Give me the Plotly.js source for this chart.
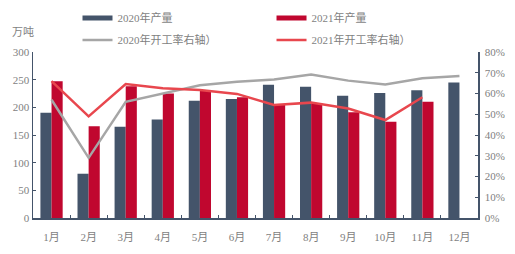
<!DOCTYPE html>
<html><head><meta charset="utf-8">
<script src="https://cdn.plot.ly/plotly-3.0.1.min.js"></script>
<style>html,body{margin:0;padding:0;background:#fff}#c{width:515px;height:254px}</style>
</head><body><div id="c"></div>
<script>
const months = ['1月','2月','3月','4月','5月','6月','7月','8月','9月','10月','11月','12月'];
const prod2020 = [190, 80, 165, 178, 212, 215, 241, 237, 221, 226, 231, 245];
const prod2021 = [247, 166, 238, 225, 231, 218, 205, 208, 191, 174, 210, null];
const rate2020 = [0.57, 0.29, 0.56, 0.60, 0.64, 0.657, 0.668, 0.692, 0.662, 0.644, 0.673, 0.684];
const rate2021 = [0.66, 0.49, 0.646, 0.625, 0.617, 0.598, 0.545, 0.556, 0.528, 0.472, 0.582, null];
const names = ['2020年产量','2021年产量','2020年开工率右轴）','2021年开工率右轴）'];

const C20 = '#44546A', C21 = '#C0072F', G = '#A6A6A6', R = '#E8474E';
const F = 'Liberation Serif, Noto Sans CJK SC, serif';
const traces = [
  {type:'bar', x:months, y:prod2020, marker:{color:C20}, showlegend:false, name:names[0]},
  {type:'bar', x:months, y:prod2021, marker:{color:C21}, showlegend:false, name:names[1]},
  {type:'scatter', mode:'lines', x:months, y:rate2020, yaxis:'y2', line:{color:G, width:2.5}, name:names[2], legend:'legend3'},
  {type:'scatter', mode:'lines', x:months, y:rate2021, yaxis:'y2', line:{color:R, width:2.5}, name:names[3], legend:'legend4'},
  {type:'scatter', mode:'lines', x:[null], y:[null], line:{color:C20, width:5}, name:names[0], legend:'legend'},
  {type:'scatter', mode:'lines', x:[null], y:[null], line:{color:C21, width:5}, name:names[1], legend:'legend2'}
];
const legBase = {orientation:'h', xanchor:'left', yanchor:'middle',
  font:{family:F, size:11, color:'#7F7F7F'}, bgcolor:'rgba(0,0,0,0)', itemwidth:30};
const L = (x, y) => Object.assign({}, legBase, {x:x, y:y});
const layout = {
  width:515, height:254, margin:{l:33, r:37, t:52, b:36, autoexpand:false},
  paper_bgcolor:'#fff', plot_bgcolor:'#fff',
  barmode:'group', bargap:0.4, bargroupgap:0,
  font:{family:F, size:11, color:'#7F7F7F'},
  xaxis:{showgrid:false, showline:true, linecolor:C20, linewidth:1.5, ticks:'inside', ticklen:3, tickcolor:C20,
    tickson:'boundaries', ticklabelstandoff:8, tickfont:{family:F, size:11, color:'#7F7F7F'}, fixedrange:true},
  yaxis:{range:[0,300], dtick:50, showgrid:false, zeroline:false, showline:true, linecolor:C20, linewidth:1.5,
    ticks:'inside', ticklen:3, tickcolor:C20, tickfont:{family:F, size:11, color:'#7F7F7F'}},
  yaxis2:{range:[0,0.8], dtick:0.1, tickformat:'.0%', overlaying:'y', side:'right', showgrid:false, zeroline:false,
    showline:true, linecolor:C20, linewidth:1.5, ticks:'inside', ticklen:3, tickcolor:C20, ticklabelstandoff:3,
    tickfont:{family:F, size:11, color:'#7F7F7F'}},
  legend:L(0.1, 1.205),
  legend2:L(0.536, 1.205),
  legend3:L(0.1, 1.072),
  legend4:L(0.536, 1.072),
  annotations:[{text:'万吨', xref:'paper', yref:'paper', x:-0.052, y:1.12, xanchor:'left', yanchor:'middle',
    showarrow:false, font:{family:F, size:11, color:'#7F7F7F'}}]
};
Plotly.newPlot('c', traces, layout, {displayModeBar:false, staticPlot:true});
</script></body></html>
